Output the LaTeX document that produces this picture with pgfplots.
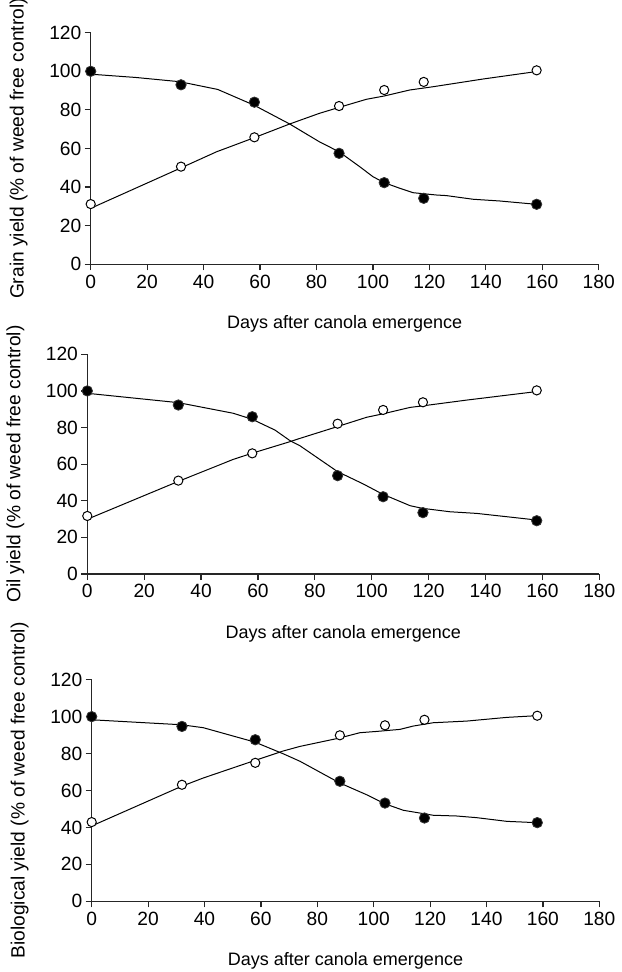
\documentclass[border=0pt]{standalone}
\usepackage{fontspec}
\setmainfont{Liberation Sans}
\usepackage{pgfplots}
\pgfplotsset{compat=1.18}
\usepackage{pgfplotstable}

% measured points: day, weed-free-until (open), weedy-until (filled)
\pgfplotstableread{
day  weedy  free
0    100    31.2
32   93     50.6
58   84     65.8
88   57.5   82
104  42.3   90.3
118  34.2   94.5
158  31.1   100.5
}\grain
\pgfplotstableread{
day  weedy  free
0    100    31.7
32   92.3   51
58   85.9   65.9
88   53.7   82.1
104  42.2   89.6
118  33.5   93.8
158  29.1   100.3
}\oil
\pgfplotstableread{
day  weedy  free
0    100    42.9
32   94.7   63.1
58   87.5   75
88   65     89.9
104  53.2   95.3
118  45.1   98.3
158  42.6   100.5
}\bio

\pgfplotsset{
  panel/.style={
    scale only axis,
    xmin=0, xmax=180, ymin=0, ymax=120,
    xtick={0,20,...,180}, ytick={0,20,...,120},
    axis x line=bottom, axis y line=left,
    axis line style={-, black!85, line width=0.6pt},
    tick align=outside, major tick length=3pt,
    tick style={black!85, line width=0.6pt},
    font=\fontsize{9}{11}\selectfont,
    /pgf/number format/assume math mode=true,
    ticklabel style={font=\fontsize{9.6}{11}\selectfont},
    xticklabel style={inner sep=2pt},
    yticklabel style={inner sep=1.5pt},
    xlabel={Days after canola emergence},
    xlabel style={at={([yshift=-30pt]axis description cs:0.5,0)}, anchor=center},
    ylabel style={at={([xshift=-36pt]axis description cs:0,0.5)}, anchor=center,
      font=\fontsize{9.6}{11}\selectfont},
    clip=false,
  },
  fit/.style={black, line width=0.5pt, no markers},
  filled/.style={only marks, mark=*, mark size=2.6pt, mark options={fill=black, draw=black!80}},
  open/.style={only marks, mark=*, mark size=2.3pt, mark options={fill=white, draw=black, line width=0.5pt}},
}

\begin{document}
\begin{tikzpicture}
% Grain yield
\begin{axis}[panel, width=254pt, height=115.8pt, anchor=south west, at={(45.35pt,-132.15pt)},
  ylabel={Grain yield (\% of weed free control)}]
\addplot[fit] coordinates {(0,98.5) (16,96.8) (31.6,94.6) (45,90.6) (57.8,82.5) (70.5,72.7) (81,63.5) (88,58.3) (95.3,50.6) (100,45.4) (104,42.3) (109.5,39.4) (114.2,37.1) (122.5,35.9) (126,35.6) (135.5,33.7) (145,32.8) (157.7,31.1)};
\addplot[fit] coordinates {(0,29) (31.6,49.7) (44.6,58.3) (57.4,65.3) (70.5,72.7) (81,78.2) (88,81.3) (97.7,85.5) (104,87.2) (113,90.3) (121.3,92) (139,96) (157.6,99.8)};
\addplot[filled] table[x=day, y=weedy] {\grain};
\addplot[open] table[x=day, y=free] {\grain};
\end{axis}
% Oil yield
\begin{axis}[panel, width=256pt, height=109.85pt, anchor=south west, at={(43.65pt,-287pt)},
  ylabel={Oil yield (\% of weed free control)}]
\addplot[fit] coordinates {(0,98.7) (32,93.6) (51.3,87.8) (58,84.5) (66,78.6) (71.3,72.8) (74.8,70) (88,55.9) (97,49.2) (103.7,43.7) (113.5,37.3) (117.7,35.9) (127.5,34) (136.9,33.1) (157.9,29.5)};
\addplot[fit] coordinates {(0,29.9) (31.7,50.4) (51.3,62.6) (57.8,65.9) (71.3,72.3) (74.8,74.1) (87.9,80.5) (98.2,85.6) (103.7,87.4) (113.5,91) (117.7,91.8) (133.4,95) (157.7,99.6)};
\addplot[filled] table[x=day, y=weedy] {\oil};
\addplot[open] table[x=day, y=free] {\oil};
\end{axis}
% Biological yield
\begin{axis}[panel, width=253.8pt, height=110.8pt, anchor=south west, at={(45.85pt,-450.65pt)},
  ylabel={Biological yield (\% of weed free control)}]
\addplot[fit] coordinates {(0,98.3) (31.9,95.6) (39.6,94) (57.9,86.2) (67.9,79.9) (73.9,75.8) (87.8,64.2) (97.5,57.7) (104,52.8) (110.5,49.3) (121.1,46.6) (129.4,46.2) (136.5,45.3) (147.2,43.3) (157.6,42.6)};
\addplot[fit] coordinates {(0,40.8) (31.9,62.3) (39.6,66.8) (57.9,76.3) (67.9,81.4) (73.9,83.9) (87.8,88.4) (95.1,91.3) (101.1,92) (109.3,93.1) (114,94.9) (121.1,96.7) (133,97.6) (147.2,99.6) (157.6,100.5)};
\addplot[filled] table[x=day, y=weedy] {\bio};
\addplot[open] table[x=day, y=free] {\bio};
\end{axis}
\pgfresetboundingbox
\useasboundingbox (0pt,0pt) rectangle (310.5pt,-486pt);
\end{tikzpicture}
\end{document}
